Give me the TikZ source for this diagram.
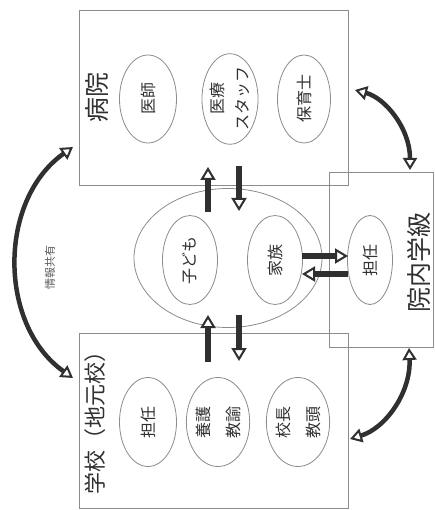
\documentclass[tikz,border=0pt]{standalone}
\usepackage{fontspec}
\setmainfont{Noto Sans CJK JP}
\usetikzlibrary{arrows.meta,shapes.geometric}
\definecolor{ink}{HTML}{303030}
\definecolor{edge}{HTML}{8C8C8C}
\begin{document}
\begin{tikzpicture}[x=1pt,y=-1pt,
  box/.style={draw=edge, line width=0.8pt, anchor=north west, inner sep=0pt},
  oval/.style={ellipse, draw=edge, line width=0.8pt, rotate=90, inner sep=0pt,
    text=ink, align=center, font=\fontsize{16}{27}\selectfont},
  biglabel/.style={rotate=90, text=ink, inner sep=0pt},
  bigarrow/.style={line width=5.5pt, ink,
    -{Triangle[fill=white, line width=2pt, length=13pt, width=15pt]}},
  curvearrow/.style={line width=4.5pt, ink,
    {Triangle[fill=white, line width=2pt, length=12pt, width=14pt]}-{Triangle[fill=white, line width=2pt, length=12pt, width=14pt]}}
]
\fill[white] (0,0) rectangle (435,510);
\useasboundingbox (0,0) rectangle (435,510);

% boxes
\node[box, minimum width=269pt, minimum height=175pt] (hosp) at (79,10) {};
\node[box, minimum width=269pt, minimum height=175pt] (school) at (79,333) {};
\node[box, minimum width=104pt, minimum height=175pt] (inclass) at (329,172) {};

% box labels
\node[biglabel, font=\fontsize{25}{25}\selectfont] (hosplbl) at (97,98) {病院};
\node[biglabel, font=\fontsize{22}{22}\selectfont] (schoollbl) at (95,417) {学校（地元校）};
\node[biglabel, font=\fontsize{25}{25}\selectfont] (inclasslbl) at (419,262) {院内学級};

% hospital members
\node[oval, minimum width=88pt, minimum height=57pt] (doctor) at (148,99) {医師};
\node[oval, minimum width=88pt, minimum height=54pt, font=\fontsize{16}{25}\selectfont] (staff) at (230,99) {医療\\スタッフ};
\node[oval, minimum width=88pt, minimum height=53pt] (nursery) at (304,99) {保育士};

% school members
\node[oval, minimum width=89pt, minimum height=57pt] (teacher) at (148,422) {担任};
\node[oval, minimum width=89pt, minimum height=57pt, font=\fontsize{16}{30}\selectfont] (yogo) at (218,422) {養護\\教諭};
\node[oval, minimum width=89pt, minimum height=57pt, font=\fontsize{16}{30}\selectfont] (head) at (298,422) {校長\\教頭};

% centre
\node[ellipse, draw=edge, line width=0.8pt, minimum width=188pt, minimum height=139pt, inner sep=0pt] (family) at (228,258) {};
\node[oval, minimum width=89pt, minimum height=55pt] (child) at (190,260) {子ども};
\node[oval, minimum width=89pt, minimum height=55pt] (kazoku) at (275,260) {家族};
\node[oval, minimum width=89pt, minimum height=45pt] (tannin) at (370,260) {担任};

% straight arrows
\coordinate (hupA) at (208,212); \coordinate (hupB) at (208,167);
\coordinate (hdnA) at (239,166); \coordinate (hdnB) at (239,211);
\coordinate (supA) at (208,362); \coordinate (supB) at (208,315);
\coordinate (sdnA) at (239,315); \coordinate (sdnB) at (239,361);
\coordinate (rA) at (302,256); \coordinate (rB) at (348,256);
\coordinate (lA) at (348,274); \coordinate (lB) at (302,274);
\draw[bigarrow] (hupA) -- (hupB);
\draw[bigarrow] (hdnA) -- (hdnB);
\draw[bigarrow] (supA) -- (supB);
\draw[bigarrow] (sdnA) -- (sdnB);
\draw[bigarrow] (rA) -- (rB);
\draw[bigarrow] (lA) -- (lB);

% curved arrows
\coordinate (infoA) at (73,147); \coordinate (infoB) at (73,378);
\draw[curvearrow] (infoA) .. controls (-2,200) and (-2,325) .. (infoB);
\node[rotate=90, text=ink!80, font=\fontsize{11}{11}\selectfont, inner sep=0pt] (infolbl) at (50,267) {情報共有};

\coordinate (trA) at (355,90); \coordinate (trB) at (410,170);
\draw[curvearrow] (trA) .. controls (385,98) and (410,128) .. (trB);
\coordinate (brA) at (409,348); \coordinate (brB) at (350,439);
\draw[curvearrow] (brA) .. controls (411,392) and (386,428) .. (brB);
\end{tikzpicture}
\end{document}
